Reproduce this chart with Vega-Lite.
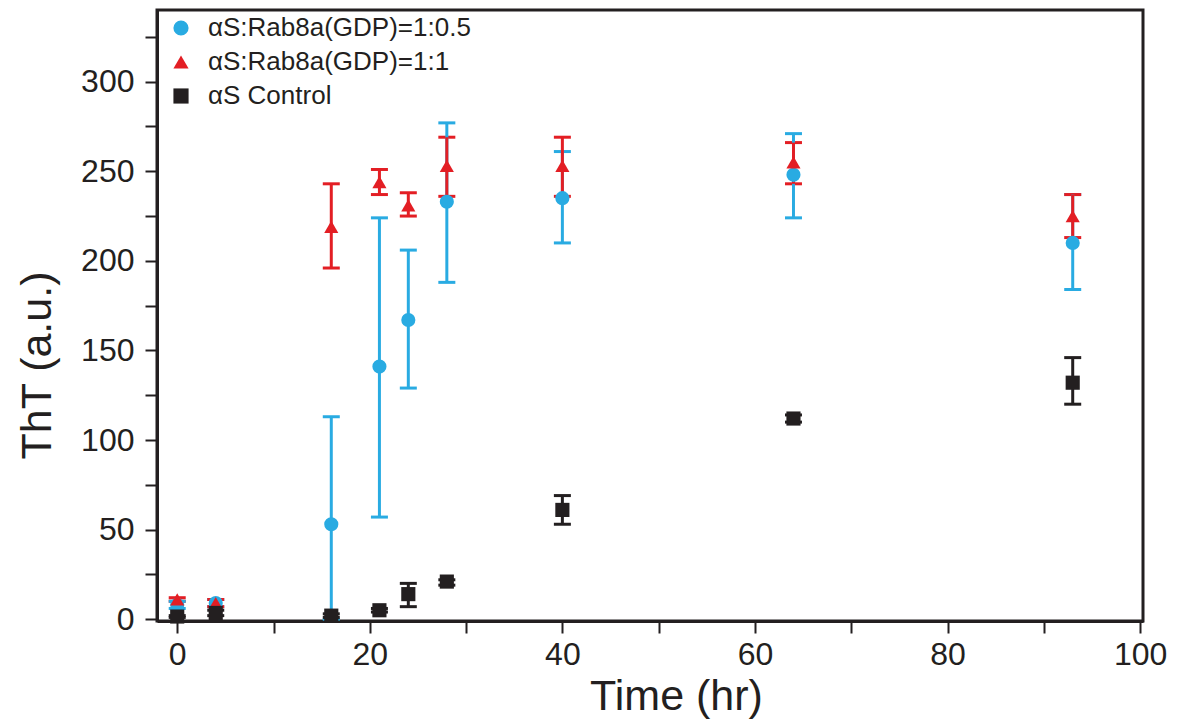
{
  "$schema": "https://vega.github.io/schema/vega-lite/v6.json",
  "width": 986,
  "height": 611,
  "autosize": "none",
  "padding": {"left": 157, "top": 10, "right": 39, "bottom": 105},
  "background": "white",
  "config": {
    "font": "Liberation Sans",
    "view": {"stroke": "#231f20", "strokeWidth": 3},
    "axis": {
      "domainColor": "#231f20", "domainWidth": 3,
      "tickColor": "#231f20", "tickWidth": 2, "tickSize": 12,
      "labelColor": "#231f20", "labelFontSize": 32, "labelFont": "Liberation Sans",
      "titleColor": "#231f20", "titleFontSize": 43, "titleFontWeight": "normal", "titleFont": "Liberation Sans",
      "grid": false
    },
    "legend": {"labelFontSize": 26, "labelFont": "Liberation Sans", "labelColor": "#231f20", "labelLimit": 0, "symbolOpacity": 1}
  },
  "data": {
    "values": [
      {"series": "αS:Rab8a(GDP)=1:0.5", "time": 0, "tht": 8, "lo": 6, "hi": 10},
      {"series": "αS:Rab8a(GDP)=1:0.5", "time": 4, "tht": 9, "lo": 7, "hi": 11},
      {"series": "αS:Rab8a(GDP)=1:0.5", "time": 16, "tht": 53, "lo": 0, "hi": 113},
      {"series": "αS:Rab8a(GDP)=1:0.5", "time": 21, "tht": 141, "lo": 57, "hi": 224},
      {"series": "αS:Rab8a(GDP)=1:0.5", "time": 24, "tht": 167, "lo": 129, "hi": 206},
      {"series": "αS:Rab8a(GDP)=1:0.5", "time": 28, "tht": 233, "lo": 188, "hi": 277},
      {"series": "αS:Rab8a(GDP)=1:0.5", "time": 40, "tht": 235, "lo": 210, "hi": 261},
      {"series": "αS:Rab8a(GDP)=1:0.5", "time": 64, "tht": 248, "lo": 224, "hi": 271},
      {"series": "αS:Rab8a(GDP)=1:0.5", "time": 93, "tht": 210, "lo": 184, "hi": 237},
      {"series": "αS:Rab8a(GDP)=1:1", "time": 0, "tht": 11, "lo": 10, "hi": 12},
      {"series": "αS:Rab8a(GDP)=1:1", "time": 4, "tht": 9, "lo": 7, "hi": 11},
      {"series": "αS:Rab8a(GDP)=1:1", "time": 16, "tht": 219, "lo": 196, "hi": 243},
      {"series": "αS:Rab8a(GDP)=1:1", "time": 21, "tht": 244, "lo": 237, "hi": 251},
      {"series": "αS:Rab8a(GDP)=1:1", "time": 24, "tht": 231, "lo": 225, "hi": 238},
      {"series": "αS:Rab8a(GDP)=1:1", "time": 28, "tht": 253, "lo": 236, "hi": 269},
      {"series": "αS:Rab8a(GDP)=1:1", "time": 40, "tht": 253, "lo": 236, "hi": 269},
      {"series": "αS:Rab8a(GDP)=1:1", "time": 64, "tht": 255, "lo": 243, "hi": 266},
      {"series": "αS:Rab8a(GDP)=1:1", "time": 93, "tht": 225, "lo": 213, "hi": 237},
      {"series": "αS Control", "time": 0, "tht": 1.5, "lo": 1, "hi": 2},
      {"series": "αS Control", "time": 4, "tht": 3.5, "lo": 2, "hi": 5},
      {"series": "αS Control", "time": 16, "tht": 2, "lo": 1, "hi": 3},
      {"series": "αS Control", "time": 21, "tht": 5, "lo": 4, "hi": 6},
      {"series": "αS Control", "time": 24, "tht": 14, "lo": 7, "hi": 20},
      {"series": "αS Control", "time": 28, "tht": 21, "lo": 19, "hi": 22},
      {"series": "αS Control", "time": 40, "tht": 61, "lo": 53, "hi": 69},
      {"series": "αS Control", "time": 64, "tht": 112, "lo": 110, "hi": 114},
      {"series": "αS Control", "time": 93, "tht": 132, "lo": 120, "hi": 146}
    ]
  },
  "encoding": {
    "x": {
      "field": "time", "type": "quantitative",
      "scale": {"domain": [-2.1, 100.3], "nice": false, "zero": false},
      "axis": {
        "title": "Time (hr)",
        "values": [0, 10, 20, 30, 40, 50, 60, 70, 80, 90, 100],
        "labelExpr": "datum.value % 20 == 0 ? datum.label : ''",
        "labelPadding": 6, "titleX": 519, "titleY": 54, "titleBaseline": "top", "titleFontSize": 43
      }
    },
    "color": {
      "field": "series", "type": "nominal",
      "scale": {
        "domain": ["αS:Rab8a(GDP)=1:0.5", "αS:Rab8a(GDP)=1:1", "αS Control"],
        "range": ["#29abe2", "#e31e24", "#231f20"]
      },
      "legend": {
        "title": null, "orient": "none", "legendX": 11, "legendY": 5,
        "symbolSize": 230, "rowPadding": 8, "labelOffset": 14, "padding": 0,
        "symbolStrokeWidth": 0
      }
    }
  },
  "layer": [
    {
      "mark": {"type": "errorbar", "opacity": 1, "ticks": {"size": 17, "thickness": 3, "opacity": 1}, "rule": {"strokeWidth": 3, "opacity": 1}},
      "encoding": {
        "y": {
          "field": "lo", "type": "quantitative",
          "scale": {"domain": [-1, 340], "nice": false, "zero": false},
          "axis": {
            "title": "ThT (a.u.)",
            "values": [0, 25, 50, 75, 100, 125, 150, 175, 200, 225, 250, 275, 300, 325],
            "labelExpr": "datum.value % 50 == 0 ? datum.label : ''",
            "labelPadding": 11, "titleX": -120, "titleY": 355, "titleBaseline": "middle", "titleAlign": "center", "titleAngle": 270
          }
        },
        "y2": {"field": "hi"}
      }
    },
    {
      "mark": {"type": "point", "filled": true, "opacity": 1, "size": 200},
      "encoding": {
        "y": {
          "field": "tht", "type": "quantitative",
          "scale": {"domain": [-1, 340], "nice": false, "zero": false},
          "axis": {
            "title": "ThT (a.u.)",
            "values": [0, 25, 50, 75, 100, 125, 150, 175, 200, 225, 250, 275, 300, 325],
            "labelExpr": "datum.value % 50 == 0 ? datum.label : ''",
            "labelPadding": 11, "titleX": -120, "titleY": 355, "titleBaseline": "middle", "titleAlign": "center", "titleAngle": 270
          }
        },
        "shape": {
          "field": "series", "type": "nominal",
          "scale": {
            "domain": ["αS:Rab8a(GDP)=1:0.5", "αS:Rab8a(GDP)=1:1", "αS Control"],
            "range": ["circle", "triangle-up", "square"]
          },
          "legend": {
            "title": null, "orient": "none", "legendX": 11, "legendY": 5,
            "symbolSize": 230, "rowPadding": 8, "labelOffset": 14, "padding": 0,
            "symbolStrokeWidth": 0
          }
        }
      }
    }
  ]
}
